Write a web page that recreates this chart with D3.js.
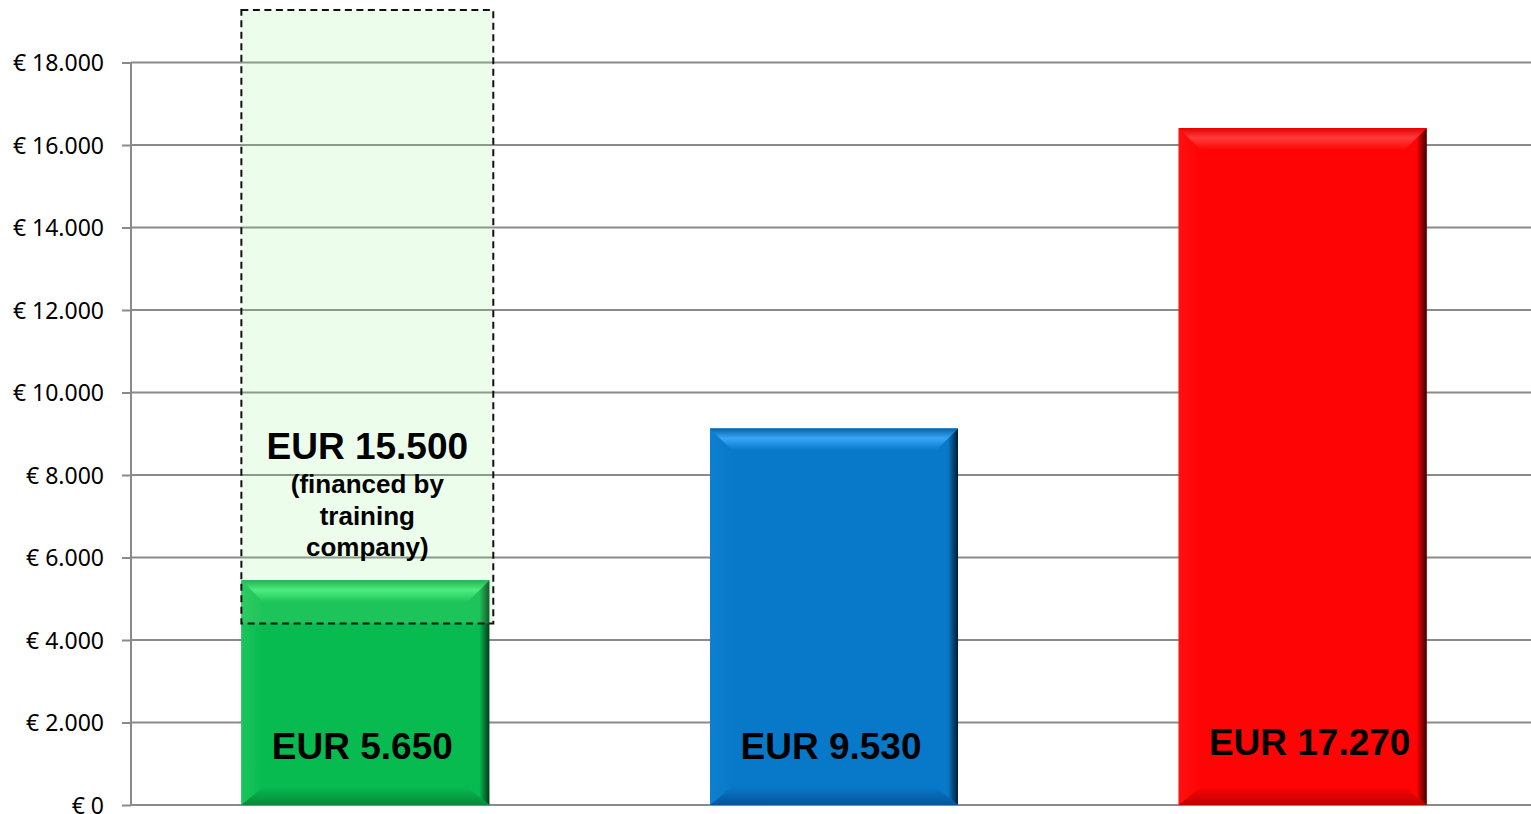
<!DOCTYPE html>
<html>
<head>
<meta charset="utf-8">
<script src="https://cdn.jsdelivr.net/npm/d3@7"></script>
<style>
  html, body { margin: 0; padding: 0; background: #fff; }
  svg { display: block; }
</style>
</head>
<body>
<svg id="chart" width="1531" height="814"></svg>
<script>
// ---- data ----
const categories = ["Option A", "Option B", "Option C"];
const barValues = [5450, 9130, 16410];
const barLabels = ["EUR 5.650", "EUR 9.530", "EUR 17.270"];
const financedRange = [4400, 19270];
const financedLines = ["EUR 15.500", "(financed by", "training", "company)"];
const yTickValues = [0, 2000, 4000, 6000, 8000, 10000, 12000, 14000, 16000, 18000];
const yTickLabels = ["€ 0", "€ 2.000", "€ 4.000", "€ 6.000", "€ 8.000", "€ 10.000", "€ 12.000", "€ 14.000", "€ 16.000", "€ 18.000"];

// ---- styles ----
const palettes = [
  { face: "#07bb50", topEdge: "#0fa548", topLight: "#40ec7e", left: "#1cc45c", dark: "#04391b", bottom: "#068a3b" },
  { face: "#0878c9", topEdge: "#0862a8", topLight: "#35a8f6", left: "#0f80cf", dark: "#001a30", bottom: "#04559a" },
  { face: "#fe0404", topEdge: "#e80000", topLight: "#ff3c3c", left: "#ff1010", dark: "#380000", bottom: "#bf0000" }
];

const svg = d3.select("#chart");
const W = 1531, H = 814;
const plotLeft = 131, plotRight = 1537;

const x = d3.scaleBand().domain(categories).range([plotLeft, plotRight]).paddingInner(0.471).paddingOuter(0.2355);
const y = d3.scaleLinear().domain([0, 18000]).range([805, 62.5]);

// gridlines
svg.append("g")
  .selectAll("line").data(yTickValues).join("line")
  .attr("x1", plotLeft).attr("x2", W)
  .attr("y1", d => y(d)).attr("y2", d => y(d))
  .attr("stroke", "#8a8a8a").attr("stroke-width", 2);

// y axis
const yAxis = d3.axisLeft(y).tickValues(yTickValues).tickSize(9).tickSizeOuter(0)
  .tickFormat((d, i) => yTickLabels[i]);
const gy = svg.append("g").attr("transform", `translate(${plotLeft},0)`).call(yAxis);
gy.select(".domain").attr("stroke", "#8a8a8a").attr("stroke-width", 2)
  .attr("d", `M0,${y(18000)}V${y(0)}`);
gy.selectAll(".tick line").attr("stroke", "#8a8a8a").attr("stroke-width", 2);
gy.selectAll(".tick text")
  .attr("x", -27)
  .attr("dy", "0.36em")
  .attr("fill", "#000")
  .style("font-family", "'Noto Sans', sans-serif")
  .style("font-size", "23px");

// gradients
const defs = svg.append("defs");
palettes.forEach((p, i) => {
  const gt = defs.append("linearGradient").attr("id", "top" + i).attr("x1", 0).attr("y1", 0).attr("x2", 0).attr("y2", 1);
  gt.append("stop").attr("offset", "0%").attr("stop-color", p.topEdge);
  gt.append("stop").attr("offset", "45%").attr("stop-color", p.topLight);
  gt.append("stop").attr("offset", "100%").attr("stop-color", p.face);
  const gr = defs.append("linearGradient").attr("id", "right" + i).attr("x1", 0).attr("y1", 0).attr("x2", 1).attr("y2", 0);
  gr.append("stop").attr("offset", "0%").attr("stop-color", p.face);
  gr.append("stop").attr("offset", "55%").attr("stop-color", p.face);
  gr.append("stop").attr("offset", "100%").attr("stop-color", p.dark);
  const gl = defs.append("linearGradient").attr("id", "left" + i).attr("x1", 0).attr("y1", 0).attr("x2", 1).attr("y2", 0);
  gl.append("stop").attr("offset", "0%").attr("stop-color", p.left);
  gl.append("stop").attr("offset", "100%").attr("stop-color", p.face);
  const gb = defs.append("linearGradient").attr("id", "bottom" + i).attr("x1", 0).attr("y1", 0).attr("x2", 0).attr("y2", 1);
  gb.append("stop").attr("offset", "0%").attr("stop-color", p.face);
  gb.append("stop").attr("offset", "100%").attr("stop-color", p.bottom);
});

// bars with bevel
const bevel = 22, bevelB = 18;
const bars = svg.append("g");
categories.forEach((c, i) => {
  const x0 = x(c), w = x.bandwidth(), y0 = y(barValues[i]), h = y(0) - y0;
  const x1 = x0 + w, y1 = y0 + h;
  const g = bars.append("g");
  g.append("rect").attr("x", x0).attr("y", y0).attr("width", w).attr("height", h).attr("fill", palettes[i].face);
  g.append("polygon").attr("points", [[x0, y0], [x0 + bevel, y0 + bevel], [x0 + bevel, y1 - bevelB], [x0, y1]].join(" "))
    .attr("fill", `url(#left${i})`);
  g.append("polygon").attr("points", [[x1, y0], [x1, y1], [x1 - bevel, y1 - bevelB], [x1 - bevel, y0 + bevel]].join(" "))
    .attr("fill", `url(#right${i})`);
  g.append("polygon").attr("points", [[x0, y1], [x1, y1], [x1 - bevel, y1 - bevelB], [x0 + bevel, y1 - bevelB]].join(" "))
    .attr("fill", `url(#bottom${i})`);
  g.append("polygon").attr("points", [[x0, y0], [x1, y0], [x1 - bevel, y0 + bevel], [x0 + bevel, y0 + bevel]].join(" "))
    .attr("fill", `url(#top${i})`);
});

// financed box
const bx0 = x(categories[0]), bw = x.bandwidth() + 4;
const byTop = y(financedRange[1]), byBot = y(financedRange[0]);
svg.append("rect")
  .attr("x", bx0).attr("y", byTop).attr("width", bw).attr("height", byBot - byTop)
  .attr("fill", "rgb(144,243,134)").attr("fill-opacity", 0.17);
svg.append("rect")
  .attr("x", bx0).attr("y", byTop).attr("width", bw).attr("height", byBot - byTop)
  .attr("fill", "none").attr("stroke", "#111").attr("stroke-width", 2)
  .attr("stroke-dasharray", "7,4.5");

// financed text
const cx = bx0 + bw / 2;
const ft = svg.append("g").style("font-family", "'Liberation Sans', Arial, sans-serif").style("font-weight", "bold").attr("fill", "#000").attr("text-anchor", "middle");
ft.append("text").attr("x", cx).attr("y", 459).style("font-size", "37px").text(financedLines[0]);
financedLines.slice(1).forEach((t, i) => {
  ft.append("text").attr("x", cx).attr("y", 493 + i * 31.5).style("font-size", "26px").text(t);
});

// bar labels
const labelDx = [-3, -3, 7];
const labelDy = [46, 46, 50];
svg.append("g").selectAll("text").data(categories).join("text")
  .attr("x", (d, i) => x(d) + x.bandwidth() / 2 + labelDx[i])
  .attr("y", (d, i) => y(0) - labelDy[i])
  .attr("text-anchor", "middle")
  .style("font-family", "'Liberation Sans', Arial, sans-serif")
  .style("font-weight", "bold")
  .style("font-size", "37px")
  .attr("fill", "#000")
  .text((d, i) => barLabels[i]);
</script>
</body>
</html>
